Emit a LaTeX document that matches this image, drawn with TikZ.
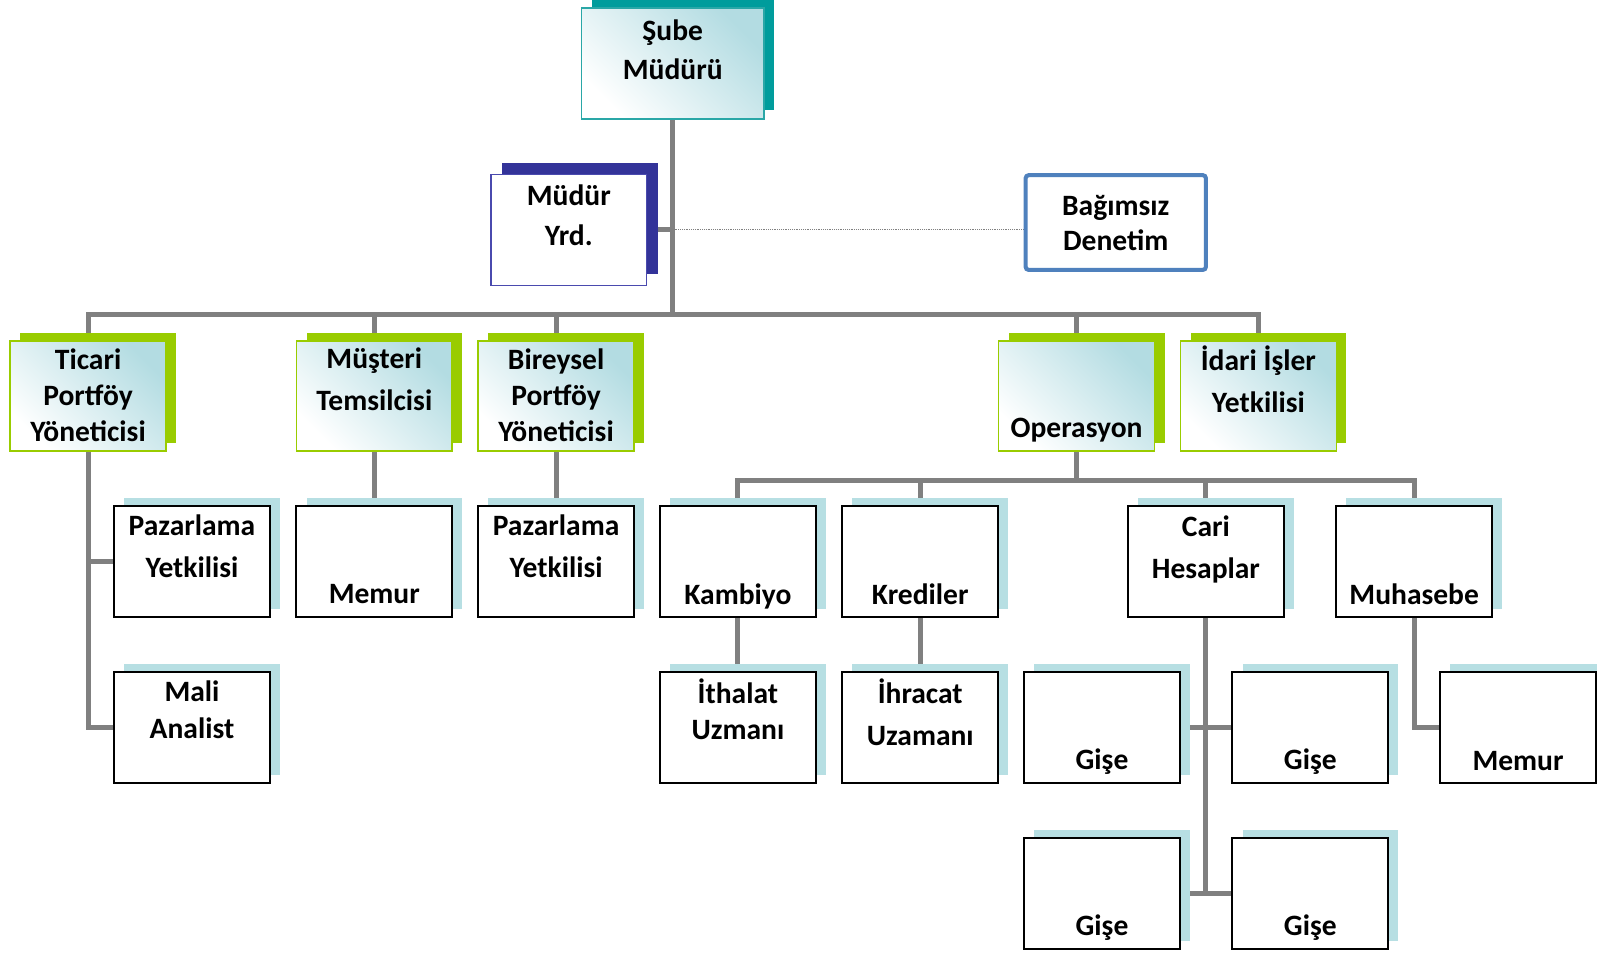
\documentclass[tikz,border=0pt]{standalone}
\usepackage{fontspec}
\setmainfont{Carlito}
\usetikzlibrary{positioning,shadows,backgrounds}

\definecolor{tealdark}{HTML}{009C9C}
\definecolor{tealline}{HTML}{2AA7A7}
\definecolor{tealsoft}{HTML}{B3DCE2}
\definecolor{limegreen}{HTML}{99CC00}
\definecolor{navyshadow}{HTML}{333399}
\definecolor{navyline}{HTML}{4A4AAE}
\definecolor{auditblue}{HTML}{4F81BD}
\definecolor{iceshadow}{HTML}{B7DFE3}
\definecolor{linkgray}{HTML}{808080}

\begin{document}
\begin{tikzpicture}[
        x=1pt, y=-1pt,
        every node/.style={inner sep=0pt, outer sep=0pt},
        headbox/.style={rectangle, draw=tealline, line width=1.5pt, minimum width=179pt, minimum height=109pt,
            top color=tealsoft, bottom color=white, shading angle=-45,
            general shadow={fill=tealdark, shadow xshift=10pt, shadow yshift=9pt}},
        deputybox/.style={rectangle, draw=navyline, line width=1.2pt, fill=white, minimum width=153pt, minimum height=109pt,
            general shadow={fill=navyshadow, shadow xshift=11pt, shadow yshift=11pt}},
        auditbox/.style={rectangle, rounded corners=3pt, draw=auditblue, line width=4pt, fill=white, minimum width=177pt, minimum height=93pt},
        unitbox/.style={rectangle, draw=limegreen, line width=1.5pt, minimum width=153pt, minimum height=108pt,
            top color=tealsoft, bottom color=white, shading angle=-45,
            general shadow={fill=limegreen, shadow xshift=10pt, shadow yshift=8pt}},
        staffbox/.style={rectangle, draw=black, line width=2pt, fill=white, minimum width=153pt, minimum height=109pt,
            general shadow={fill=iceshadow, shadow xshift=10pt, shadow yshift=8pt}},
        lbl/.style={font=\fontsize{29}{#1}\selectfont\bfseries, align=center},
        lbl/.default=41,
        link/.style={draw=linkgray, line width=5pt},
        dotlink/.style={draw=linkgray, line width=0.8pt, densely dotted}
    ]
        \useasboundingbox (0,0) rectangle (1568,936);

        % top of the chart
        \node[headbox] (sube) at (660.5,62.5) {};
        \node[lbl=38] (sube-t) at (660.5,48.5) {Şube\\Müdürü};
        \node[deputybox] (mudyrd) at (558.5,225.5) {};
        \node[lbl=39] (mudyrd-t) at (558.5,211) {Müdür\\Yrd.};
        \node[auditbox] (bagimsiz) at (1095.5,218.5) {};
        \node[lbl=35] (bagimsiz-t) at (1095.5,219) {Bağımsız\\Denetim};

        % units
        \node[unitbox] (ticari) at (86.5,389) {};
        \node[lbl=35.5] (ticari-t) at (86.5,388) {Ticari\\Portföy\\Yöneticisi};
        \node[unitbox] (musteri) at (367.5,389) {};
        \node[lbl] (musteri-t) at (367.5,372.5) {Müşteri\\Temsilcisi};
        \node[unitbox] (bireysel) at (546,389) {};
        \node[lbl=35.5] (bireysel-t) at (546,388) {Bireysel\\Portföy\\Yöneticisi};
        \node[unitbox] (operasyon) at (1057,389) {};
        \node[lbl] (operasyon-t) at (1057,422.5) {Operasyon};
        \node[unitbox] (idari) at (1235.5,389) {};
        \node[lbl] (idari-t) at (1235.5,372) {İdari İşler\\Yetkilisi};

        % staff, first row
        \node[staffbox] (pazar1) at (188.5,551.5) {};
        \node[lbl] (pazar1-t) at (188.5,536.5) {Pazarlama\\Yetkilisi};
        \node[staffbox] (memur1) at (367.5,551.5) {};
        \node[lbl] (memur1-t) at (367.5,583) {Memur};
        \node[staffbox] (pazar2) at (546,551.5) {};
        \node[lbl] (pazar2-t) at (546,536.5) {Pazarlama\\Yetkilisi};
        \node[staffbox] (kambiyo) at (724.5,551.5) {};
        \node[lbl] (kambiyo-t) at (724.5,585.5) {Kambiyo};
        \node[staffbox] (krediler) at (903.5,551.5) {};
        \node[lbl] (krediler-t) at (903.5,583) {Krediler};
        \node[staffbox] (cari) at (1184,551.5) {};
        \node[lbl] (cari-t) at (1184,539.5) {Cari\\Hesaplar};
        \node[staffbox] (muhasebe) at (1388.5,551.5) {};
        \node[lbl] (muhasebe-t) at (1388.5,583) {Muhasebe};

        % staff, second row
        \node[staffbox] (mali) at (188.5,714.5) {};
        \node[lbl=36] (mali-t) at (188.5,697) {Mali\\Analist};
        \node[staffbox] (ithalat) at (724.5,714.5) {};
        \node[lbl=36] (ithalat-t) at (724.5,696.5) {İthalat\\Uzmanı};
        \node[staffbox] (ihracat) at (903.5,714.5) {};
        \node[lbl] (ihracat-t) at (903.5,699) {İhracat\\Uzamanı};
        \node[staffbox] (gise1) at (1082,714.5) {};
        \node[lbl] (gise1-t) at (1082,748) {Gişe};
        \node[staffbox] (gise2) at (1286.5,714.5) {};
        \node[lbl] (gise2-t) at (1286.5,748) {Gişe};
        \node[staffbox] (memur2) at (1490.5,714.5) {};
        \node[lbl] (memur2-t) at (1490.5,747) {Memur};

        % staff, third row
        \node[staffbox] (gise3) at (1082,877.5) {};
        \node[lbl] (gise3-t) at (1082,911) {Gişe};
        \node[staffbox] (gise4) at (1286.5,877.5) {};
        \node[lbl] (gise4-t) at (1286.5,911) {Gişe};

        \coordinate (bus) at (660.5,309);
        \coordinate (opbus) at (1057,472);

        \begin{scope}[on background layer]
            \draw[link] (sube.south) -- (bus);
            \draw[link] (mudyrd.east) -- (mudyrd.east -| sube.south);
            \draw[dotlink] (mudyrd.east -| sube.south) -- (mudyrd.east -| bagimsiz.west);
            \draw[link] (ticari.north) |- (bus) -| (idari.north);
            \draw[link] (musteri.north) -- (musteri.north |- bus);
            \draw[link] (bireysel.north) -- (bireysel.north |- bus);
            \draw[link] (operasyon.north) -- (operasyon.north |- bus);

            \draw[link] (ticari.south) |- (pazar1.west);
            \draw[link] (ticari.south) |- (mali.west);
            \draw[link] (musteri) -- (memur1);
            \draw[link] (bireysel) -- (pazar2);

            \draw[link] (operasyon.south) -- (opbus);
            \draw[link] (kambiyo.north) |- (opbus) -| (muhasebe.north);
            \draw[link] (krediler.north) -- (krediler.north |- opbus);
            \draw[link] (cari.north) -- (cari.north |- opbus);

            \draw[link] (kambiyo) -- (ithalat);
            \draw[link] (krediler) -- (ihracat);
            \draw[link] (cari.south) -- (cari.south |- gise3.east);
            \draw[link] (gise1.east) -- (gise2.west);
            \draw[link] (gise3.east) -- (gise4.west);
            \draw[link] (muhasebe.south) |- (memur2.west);
        \end{scope}
    \end{tikzpicture}
\end{document}
